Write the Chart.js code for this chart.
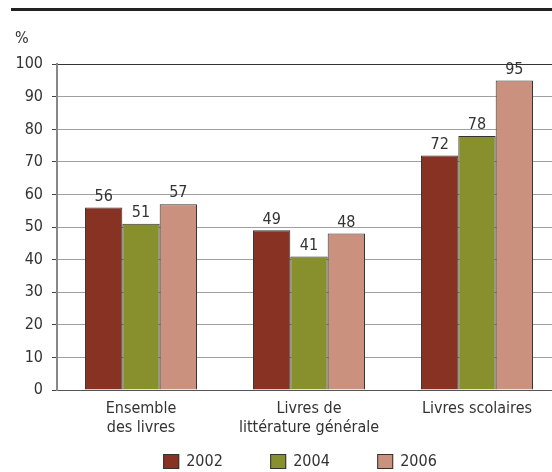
<!DOCTYPE html>
<html>
<head>
<meta charset="utf-8">
<script src="https://cdn.jsdelivr.net/npm/chart.js@4/dist/chart.umd.min.js"></script>
<style>
  html, body { margin: 0; padding: 0; overflow: hidden; background: #fff; }
  #wrap { position: relative; width: 566px; height: 472px; }
</style>
</head>
<body>
<div id="wrap"><canvas id="c"></canvas></div>
<script>
const categories = [["Ensemble", "des livres"], ["Livres de", "littérature générale"], "Livres scolaires"];
const seriesNames = ["2002", "2004", "2006"];
const values2002 = [56, 49, 72];
const values2004 = [51, 41, 78];
const values2006 = [57, 48, 95];
const yTicks = [0, 10, 20, 30, 40, 50, 60, 70, 80, 90, 100];
const colors = ["#873222", "#87902c", "#c9917e"];

const FONT = "'Liberation Sans Narrow', 'Arial Narrow', 'DejaVu Sans Condensed', sans-serif";
const TEXT = "#333333";

const decorPlugin = {
  id: "decor",
  beforeDraw(chart) {
    const ctx = chart.ctx;
    ctx.save();
    ctx.fillStyle = "#222";
    ctx.fillRect(11, 8, chart.width, 3);
    ctx.restore();
  },
  afterDatasetsDraw(chart) {
    const ctx = chart.ctx;
    ctx.save();
    ctx.font = "16px " + FONT;
    ctx.fillStyle = TEXT;
    ctx.textAlign = "center";
    ctx.textBaseline = "bottom";
    chart.data.datasets.forEach((ds, di) => {
      const meta = chart.getDatasetMeta(di);
      meta.data.forEach((bar, i) => {
        ctx.fillText(String(ds.data[i]), bar.x, bar.y - 3);
      });
    });
    ctx.restore();
  },
  afterDraw(chart) {
    const ctx = chart.ctx;
    const area = chart.chartArea;
    ctx.save();
    ctx.font = "16px " + FONT;
    ctx.textBaseline = "middle";
    ctx.textAlign = "left";
    const pitch = 107, boxW = 16, boxH = 15;
    const n = chart.data.datasets.length;
    const lastW = boxW + 7 + ctx.measureText(chart.data.datasets[n - 1].label).width;
    const total = pitch * (n - 1) + lastW;
    const cx = (area.left + area.right) / 2 - 9;
    let x = cx - total / 2;
    const yTop = 454;
    chart.data.datasets.forEach((ds) => {
      ctx.fillStyle = ds.backgroundColor;
      ctx.fillRect(x, yTop, boxW, boxH);
      ctx.strokeStyle = "#333";
      ctx.lineWidth = 1;
      ctx.strokeRect(x + 0.5, yTop + 0.5, boxW - 1, boxH - 1);
      ctx.fillStyle = TEXT;
      ctx.fillText(ds.label, x + boxW + 7, yTop + boxH / 2 + 0.5);
      x += pitch;
    });
    ctx.restore();
  }
};

const mkDs = (label, data, color) => ({
  label, data,
  backgroundColor: color,
  borderColor: "#333",
  borderWidth: 1,
  categoryPercentage: 0.667,
  barPercentage: 1.0
});

new Chart(document.getElementById("c"), {
  type: "bar",
  data: {
    labels: categories,
    datasets: [
      mkDs(seriesNames[0], values2002, colors[0]),
      mkDs(seriesNames[1], values2004, colors[1]),
      mkDs(seriesNames[2], values2006, colors[2])
    ]
  },
  options: {
    responsive: true,
    maintainAspectRatio: false,
    animation: false,
    devicePixelRatio: 1,
    layout: { padding: { left: 15, right: 5, top: 0, bottom: 35 } },
    plugins: {
      legend: { display: false },
      tooltip: { enabled: false },
      title: {
        display: true,
        text: "%",
        align: "start",
        color: TEXT,
        font: { family: FONT, size: 16, weight: "normal" },
        padding: { top: 29, bottom: 16 }
      }
    },
    scales: {
      x: {
        grid: { display: false, drawTicks: false },
        border: { display: true, color: "#555", width: 1 },
        ticks: { color: TEXT, font: { family: FONT, size: 16 }, padding: 9, maxRotation: 0, autoSkip: false },
        afterFit(scale) { scale.height = 47; }
      },
      y: {
        min: 0, max: 100,
        afterBuildTicks(scale) { scale.ticks = yTicks.map(v => ({ value: v })); },
        grid: {
          color: (c) => (c.tick && c.tick.value === 100) ? "#333" : (c.tick && c.tick.value === 0 ? "#555" : "#a0a0a0"),
          tickColor: "#444",
          tickLength: 5,
          lineWidth: 1
        },
        border: { display: true, color: "#888", width: 2 },
        ticks: { color: TEXT, font: { family: FONT, size: 16 }, padding: 9 },
        afterFit(scale) { scale.width = 42; }
      }
    }
  },
  plugins: [decorPlugin]
});
</script>
</body>
</html>
